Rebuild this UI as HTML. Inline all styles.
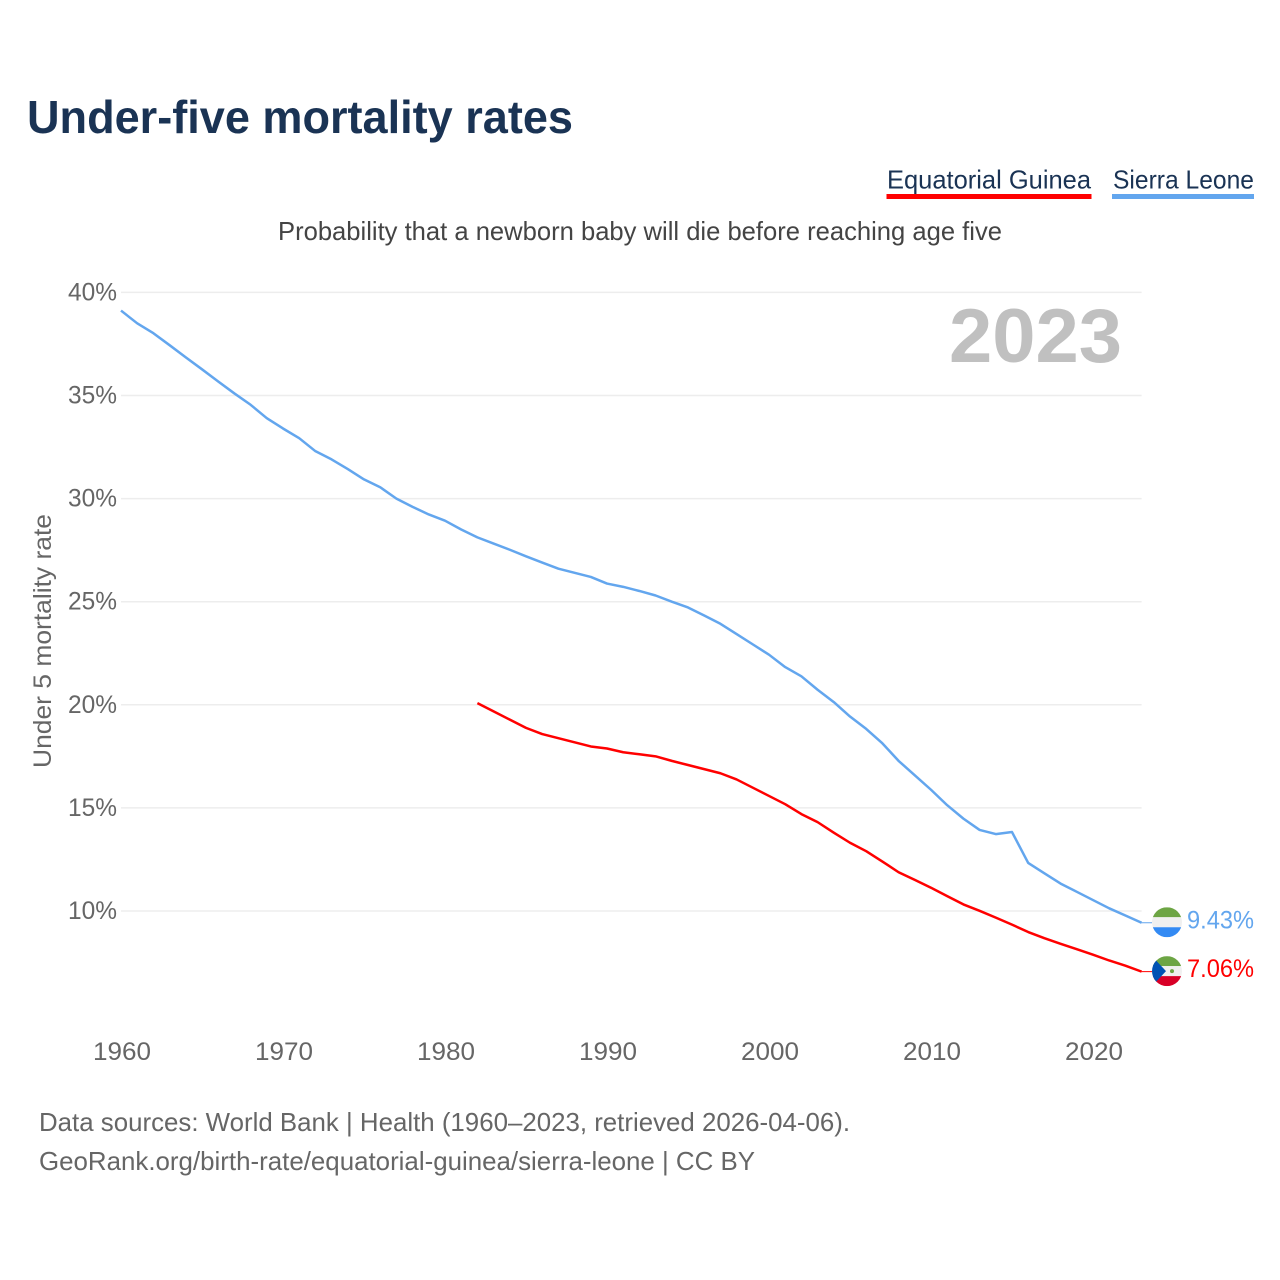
<!DOCTYPE html>
<html lang="en">
<head>
<meta charset="utf-8">
<title>Under-five mortality rates</title>
<style>
html,body{margin:0;padding:0;background:#fff;}
svg{display:block;}
text{font-family:"Liberation Sans",sans-serif;}
</style>
</head>
<body>
<svg id="chart" xmlns="http://www.w3.org/2000/svg" width="1280" height="1280" viewBox="0 0 1280 1280">
  <rect x="0" y="0" width="1280" height="1280" fill="#ffffff"/>
  <defs>
    <clipPath id="flag-clip"><circle cx="0" cy="0" r="15"/></clipPath>
  </defs>
  <text x="27" y="133" font-size="46" font-weight="700" fill="#1a3354" textLength="546" lengthAdjust="spacingAndGlyphs">Under-five mortality rates</text>
  <g>
    <text x="887" y="188.5" font-size="26" fill="#1a3354" textLength="204" lengthAdjust="spacingAndGlyphs">Equatorial Guinea</text>
    <rect x="886.5" y="194" width="205" height="5" fill="#ff0000"/>
  </g>
  <g>
    <text x="1113" y="188.5" font-size="26" fill="#1a3354" textLength="141" lengthAdjust="spacingAndGlyphs">Sierra Leone</text>
    <rect x="1112" y="194" width="142" height="5" fill="#63a6ee"/>
  </g>
  <text x="278" y="240" font-size="26" fill="#444444" textLength="724" lengthAdjust="spacingAndGlyphs">Probability that a newborn baby will die before reaching age five</text>
  <text transform="translate(51,768) rotate(-90)" x="0" y="0" font-size="25" fill="#666666" textLength="254" lengthAdjust="spacingAndGlyphs">Under 5 mortality rate</text>
  <g id="grid"></g>
  <g id="y-ticks"></g>
  <g id="x-ticks"></g>
  <text x="949" y="362" font-size="76" font-weight="700" fill="#c0c0c0" textLength="173" lengthAdjust="spacingAndGlyphs">2023</text>
  <g id="series"></g>
  <g id="flag-sl">
    <g clip-path="url(#flag-clip)">
      <rect x="-15" y="-15" width="30" height="10" fill="#6da544"/>
      <rect x="-15" y="-5" width="30" height="10" fill="#f0f0f0"/>
      <rect x="-15" y="5" width="30" height="10" fill="#338af3"/>
    </g>
  </g>
  <g id="flag-eg">
    <g clip-path="url(#flag-clip)">
      <rect x="-15" y="-15" width="30" height="10" fill="#6da544"/>
      <rect x="-15" y="-5" width="30" height="10" fill="#f0f0f0"/>
      <rect x="-15" y="5" width="30" height="10" fill="#d80027"/>
      <polygon points="-15,-15 -1,0 -15,15" fill="#0052b4"/>
      <circle cx="5" cy="0" r="2" fill="#6da544"/>
    </g>
  </g>
  <g id="value-labels"></g>
  <text x="39" y="1131" font-size="26" fill="#666666" textLength="811" lengthAdjust="spacingAndGlyphs">Data sources: World Bank | Health (1960–2023, retrieved 2026-04-06).</text>
  <text x="39" y="1170" font-size="26" fill="#666666" textLength="716" lengthAdjust="spacingAndGlyphs">GeoRank.org/birth-rate/equatorial-guinea/sierra-leone | CC BY</text>
</svg>
<script>
const years = [1960,1961,1962,1963,1964,1965,1966,1967,1968,1969,1970,1971,1972,1973,1974,1975,1976,1977,1978,1979,1980,1981,1982,1983,1984,1985,1986,1987,1988,1989,1990,1991,1992,1993,1994,1995,1996,1997,1998,1999,2000,2001,2002,2003,2004,2005,2006,2007,2008,2009,2010,2011,2012,2013,2014,2015,2016,2017,2018,2019,2020,2021,2022,2023];
const sierraLeoneValues = [39.12,38.5,38.02,37.44,36.85,36.27,35.68,35.1,34.55,33.9,33.4,32.93,32.3,31.9,31.43,30.93,30.55,30.0,29.6,29.23,28.93,28.5,28.12,27.82,27.52,27.2,26.9,26.6,26.4,26.2,25.88,25.72,25.52,25.3,25.0,24.72,24.33,23.93,23.43,22.93,22.43,21.83,21.38,20.73,20.13,19.43,18.83,18.13,17.28,16.58,15.88,15.13,14.48,13.93,13.73,13.83,12.33,11.83,11.33,10.93,10.53,10.13,9.78,9.43];
const equatorialGuineaValues = [null,null,null,null,null,null,null,null,null,null,null,null,null,null,null,null,null,null,null,null,null,null,20.08,19.68,19.28,18.88,18.58,18.38,18.18,17.98,17.88,17.7,17.6,17.5,17.28,17.08,16.88,16.68,16.38,15.98,15.58,15.18,14.7,14.31,13.8,13.31,12.9,12.4,11.88,11.51,11.13,10.72,10.32,10.01,9.68,9.34,8.98,8.68,8.41,8.15,7.88,7.6,7.35,7.06];
const yTickValues = [10,15,20,25,30,35,40];
const xTickValues = [1960,1970,1980,1990,2000,2010,2020];

const SVG_NS = 'http://www.w3.org/2000/svg';
function xScale(year) { return 121 + (year - 1960) * 16.2; }
function yScale(value) { return 911 - (value - 10) * 20.62; }

function drawLine(values, color, parent) {
  let d = '';
  values.forEach(function (v, i) {
    if (v === null) return;
    d += (d ? 'L' : 'M') + xScale(years[i]).toFixed(2) + ' ' + yScale(v).toFixed(2);
  });
  const line = document.createElementNS(SVG_NS, 'path');
  line.setAttribute('d', d);
  line.setAttribute('fill', 'none');
  line.setAttribute('stroke', color);
  line.setAttribute('stroke-width', '2.5');
  line.setAttribute('stroke-linejoin', 'round');
  parent.appendChild(line);
  return line;
}

const gridGroup = document.getElementById('grid');
const yTickGroup = document.getElementById('y-ticks');
yTickValues.forEach(function (v) {
  const y = yScale(v);
  const rule = document.createElementNS(SVG_NS, 'line');
  
  
  rule.setAttribute('x1', 121);
  rule.setAttribute('x2', 1141.6);
  rule.setAttribute('y1', y);
  rule.setAttribute('y2', y);
  rule.setAttribute('stroke', '#ededed');
  rule.setAttribute('stroke-width', '1.5');
  gridGroup.appendChild(rule);
  const label = document.createElementNS(SVG_NS, 'text');
  
  
  label.setAttribute('x', 117);
  label.setAttribute('y', y + 8);
  label.setAttribute('text-anchor', 'end');
  label.setAttribute('font-size', '25');
  label.setAttribute('fill', '#666666');
  label.setAttribute('textLength', '49');
  label.setAttribute('lengthAdjust', 'spacingAndGlyphs');
  label.textContent = v + '%';
  yTickGroup.appendChild(label);
});

const xTickGroup = document.getElementById('x-ticks');
xTickValues.forEach(function (yr) {
  const label = document.createElementNS(SVG_NS, 'text');
  
  
  label.setAttribute('x', xScale(yr) + 1);
  label.setAttribute('y', 1060);
  label.setAttribute('text-anchor', 'middle');
  label.setAttribute('font-size', '25');
  label.setAttribute('fill', '#666666');
  label.setAttribute('textLength', '58');
  label.setAttribute('lengthAdjust', 'spacingAndGlyphs');
  label.textContent = yr;
  xTickGroup.appendChild(label);
});

const seriesGroup = document.getElementById('series');
const slLine = drawLine(sierraLeoneValues, '#63a6ee', seriesGroup);


const egLine = drawLine(equatorialGuineaValues, '#ff0000', seriesGroup);



const labelGroup = document.getElementById('value-labels');
function drawEnd(values, color, flagId, connectorName, labelName) {
  const last = values[values.length - 1];
  const lastYear = years[years.length - 1];
  const y = yScale(last);
  const connector = document.createElementNS(SVG_NS, 'line');
  
  
  connector.setAttribute('x1', xScale(lastYear));
  connector.setAttribute('x2', 1152);
  connector.setAttribute('y1', y);
  connector.setAttribute('y2', y);
  connector.setAttribute('stroke', color);
  connector.setAttribute('stroke-width', '1');
  seriesGroup.appendChild(connector);
  document.getElementById(flagId).setAttribute('transform', 'translate(1167,' + (y - 0.5).toFixed(2) + ')');
  const label = document.createElementNS(SVG_NS, 'text');
  
  
  label.setAttribute('x', 1187);
  label.setAttribute('y', y + 5.5);
  label.setAttribute('font-size', '25');
  label.setAttribute('fill', color);
  label.setAttribute('textLength', '67');
  label.setAttribute('lengthAdjust', 'spacingAndGlyphs');
  label.textContent = last.toFixed(2) + '%';
  labelGroup.appendChild(label);
}
drawEnd(sierraLeoneValues, '#63a6ee', 'flag-sl', 'connector-sierra-leone', 'value-label-sierra-leone');
drawEnd(equatorialGuineaValues, '#ff0000', 'flag-eg', 'connector-equatorial-guinea', 'value-label-equatorial-guinea');
</script>
</body>
</html>
